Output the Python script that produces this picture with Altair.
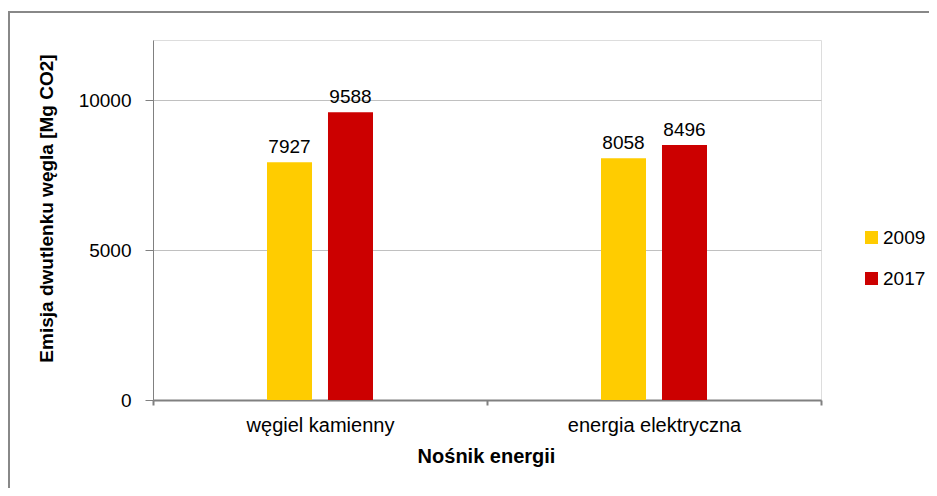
import altair as alt
import pandas as pd

categories = ["węgiel kamienny", "energia elektryczna"]
years = ["2009", "2017"]
values_2009 = [7927, 8058]
values_2017 = [9588, 8496]
colors = ["#FFCC00", "#CC0000"]
y_ticks = [0, 5000, 10000]

rows = []
for i, c in enumerate(categories):
    rows.append({"cat": c, "year": "2009", "value": values_2009[i]})
    rows.append({"cat": c, "year": "2017", "value": values_2017[i]})
df = pd.DataFrame(rows)

FONT = "Liberation Sans"
W, H = 668, 360

# empty slots either side of the two bars in each group
offset_domain = [" "] + years + ["  "]

x_enc = alt.X(
    "cat:N",
    sort=categories,
    scale=alt.Scale(paddingInner=0, paddingOuter=0),
    axis=alt.Axis(
        title="Nośnik energii",
        labelAngle=0,
        labelFont=FONT,
        labelFontSize=20,
        labelColor="#000000",
        labelPadding=10,
        tickBand="extent",
        tickSize=5,
        tickColor="#808080",
        tickWidth=2,
        domainColor="#808080",
        domainWidth=2,
        titleFont=FONT,
        titleFontSize=20,
        titleFontWeight="bold",
        titleColor="#000000",
        titleX=333,
        titleY=62,
        titleBaseline="alphabetic",
        titleAlign="center",
    ),
)
xoff = alt.XOffset(
    "year:N",
    scale=alt.Scale(domain=offset_domain, paddingInner=0.262, paddingOuter=0.869),
)
y_enc = alt.Y(
    "value:Q",
    scale=alt.Scale(domain=[0, 12000], nice=False),
    axis=alt.Axis(
        title="Emisja dwutlenku węgla [Mg CO2]",
        values=y_ticks,
        format="d",
        labelFont=FONT,
        labelFontSize=19,
        labelColor="#000000",
        labelPadding=14,
        tickSize=8,
        tickColor="#808080",
        domainColor="#808080",
        gridColor="#c0c0c0",
        titleFont=FONT,
        titleFontSize=19,
        titleFontWeight="bold",
        titleColor="#000000",
        titleAngle=270,
        titleX=-107,
        titleY=168,
        titleBaseline="middle",
        titleAlign="center",
    ),
)

bars = alt.Chart(df).mark_bar().encode(
    x=x_enc,
    xOffset=xoff,
    y=y_enc,
    color=alt.Color(
        "year:N",
        sort=years,
        scale=alt.Scale(domain=years, range=colors),
        legend=alt.Legend(
            title=None,
            orient="none",
            legendX=709,
            legendY=188,
            symbolType="square",
            symbolSize=169,
            symbolStrokeWidth=0,
            labelFont=FONT,
            labelFontSize=19,
            labelColor="#000000",
            labelOffset=2,
            rowPadding=21,
        ),
    ),
)

labels = alt.Chart(df).mark_text(
    baseline="alphabetic", dy=-9, font=FONT, fontSize=19, color="#000000"
).encode(
    x=alt.X("cat:N", sort=categories),
    xOffset=alt.XOffset("year:N"),
    y="value:Q",
    text="value:Q",
)

frame = alt.Chart(alt.Data(values=[{}])).mark_rect(
    fill=None, stroke="#888888", strokeWidth=2
).encode(
    x=alt.value(-144), x2=alt.value(900), y=alt.value(-28), y2=alt.value(200 + H)
)

chart = alt.layer(frame, bars, labels).properties(
    width=W,
    height=H,
    autosize=alt.AutoSizeParams(type="none"),
    padding={"left": 145, "top": 32, "right": 108, "bottom": 88},
).configure_view(stroke="#c0c0c0").configure(background="white")

chart.save("out.html", embed_options={"renderer": "svg", "actions": False})
